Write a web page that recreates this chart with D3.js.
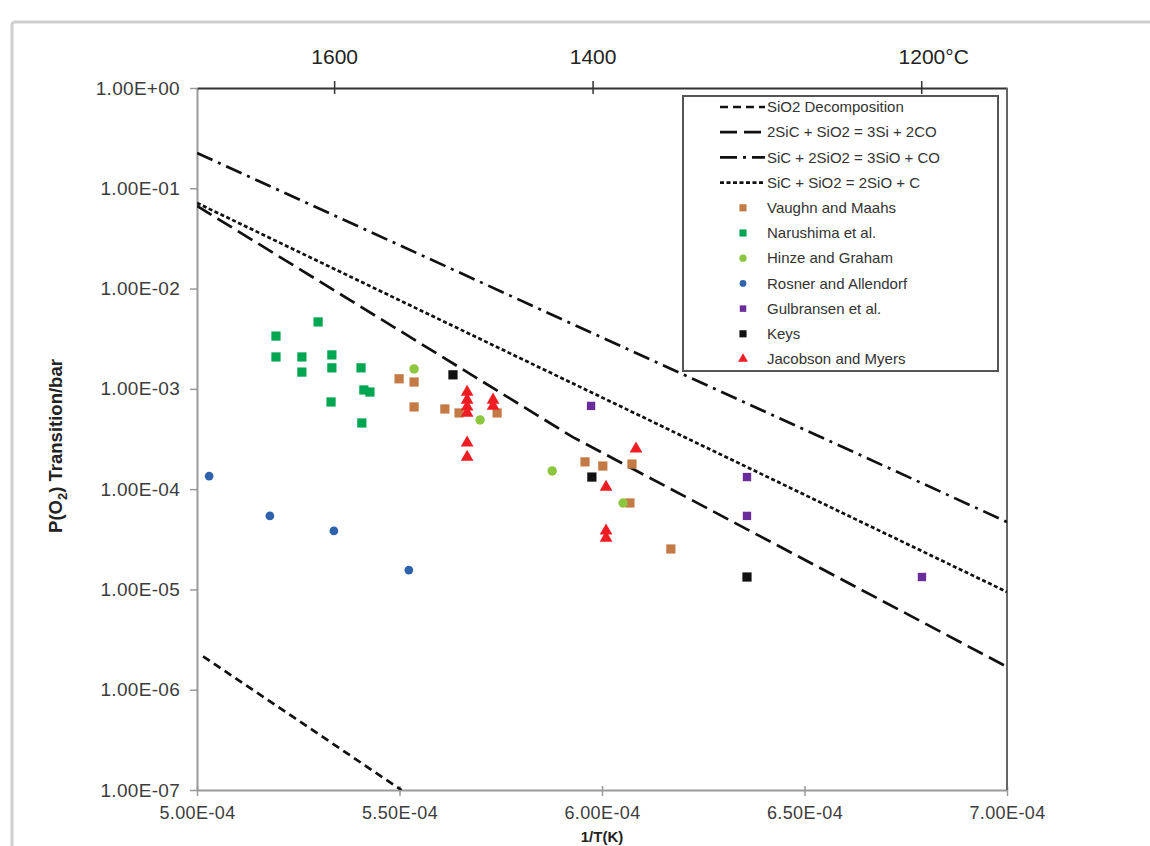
<!DOCTYPE html>
<html>
<head>
<meta charset="utf-8">
<script src="https://cdn.jsdelivr.net/npm/d3@7"></script>
<style>
  html, body { margin: 0; padding: 0; background: #fff; overflow: hidden; }
  svg { display: block; font-family: "Liberation Sans", Arial, sans-serif; }
</style>
</head>
<body>
<div id="chart"></div>
<script>
// axis ticks and labels
const yTicks = [1, 1e-1, 1e-2, 1e-3, 1e-4, 1e-5, 1e-6, 1e-7];
const yTickLabels = ["1.00E+00", "1.00E-01", "1.00E-02", "1.00E-03", "1.00E-04", "1.00E-05", "1.00E-06", "1.00E-07"];
const xTicks = [5.0e-4, 5.5e-4, 6.0e-4, 6.5e-4, 7.0e-4];
const xTickLabels = ["5.00E-04", "5.50E-04", "6.00E-04", "6.50E-04", "7.00E-04"];
const tempTicksC = [1600, 1400, 1200];
const tempTickLabels = ["1600", "1400", "1200°C"];

// equilibrium lines [1/T, P(O2)]
const sio2Decomp = [[5.015e-4, 2.15e-6], [5.505e-4, 1.0e-7]];
const sic2Si = [[5.0e-4, 6.66e-2], [5.928e-4, 3.3e-4], [7.0e-4, 1.69e-6]];
const sic3SiO = [[5.0e-4, 2.25e-1], [7.0e-4, 4.71e-5]];
const sic2SiO = [[5.0e-4, 7.13e-2], [7.0e-4, 9.44e-6]];

// measured transitions [1/T, P(O2)]
const vaughn = [[5.499e-4, 1.26e-3], [5.536e-4, 1.17e-3], [5.536e-4, 6.6e-4], [5.612e-4, 6.3e-4],
  [5.647e-4, 5.75e-4], [5.741e-4, 5.75e-4], [5.958e-4, 1.87e-4], [6.002e-4, 1.7e-4],
  [6.074e-4, 1.78e-4], [6.069e-4, 7.28e-5], [6.17e-4, 2.53e-5]];
const narushima = [[5.299e-4, 4.65e-3], [5.195e-4, 3.36e-3], [5.195e-4, 2.08e-3], [5.259e-4, 2.08e-3],
  [5.259e-4, 1.47e-3], [5.333e-4, 2.18e-3], [5.333e-4, 1.62e-3], [5.331e-4, 7.4e-4],
  [5.405e-4, 1.62e-3], [5.412e-4, 9.75e-4], [5.427e-4, 9.3e-4], [5.407e-4, 4.57e-4]];
const hinze = [[5.536e-4, 1.58e-3], [5.699e-4, 4.9e-4], [5.877e-4, 1.52e-4], [6.052e-4, 7.28e-5]];
const rosner = [[5.03e-4, 1.35e-4], [5.18e-4, 5.41e-5], [5.338e-4, 3.83e-5], [5.523e-4, 1.56e-5]];
const gulbransen = [[5.973e-4, 6.76e-4], [6.358e-4, 1.32e-4], [6.358e-4, 5.41e-5], [6.79e-4, 1.33e-5]];
const keys = [[5.632e-4, 1.38e-3], [5.975e-4, 1.32e-4], [6.358e-4, 1.33e-5]];
const jacobson = [[5.667e-4, 9.3e-4], [5.667e-4, 7.75e-4], [5.667e-4, 6.6e-4], [5.667e-4, 5.75e-4],
  [5.667e-4, 2.89e-4], [5.667e-4, 2.09e-4], [5.731e-4, 7.75e-4], [5.731e-4, 6.75e-4],
  [6.01e-4, 1.05e-4], [6.01e-4, 3.83e-5], [6.01e-4, 3.26e-5], [6.084e-4, 2.52e-4]];

const lineNames = ["SiO2 Decomposition", "2SiC + SiO2 = 3Si + 2CO", "SiC + 2SiO2 = 3SiO + CO", "SiC + SiO2 = 2SiO + C"];
const pointNames = ["Vaughn and Maahs", "Narushima et al.", "Hinze and Graham", "Rosner and Allendorf", "Gulbransen et al.", "Keys", "Jacobson and Myers"];

var lineSeries = [
  { data: sio2Decomp, dash: "8,5" },
  { data: sic2Si, dash: "17,7" },
  { data: sic3SiO, dash: "17,6,3,6" },
  { data: sic2SiO, dash: "4,2.5" },
];
var pointSeries = [
  { data: vaughn, color: "#c47a45", shape: d3.symbolSquare, size: 85 },
  { data: narushima, color: "#00a651", shape: d3.symbolSquare, size: 85 },
  { data: hinze, color: "#8dc63f", shape: d3.symbolCircle, size: 70 },
  { data: rosner, color: "#2e62ad", shape: d3.symbolCircle, size: 60 },
  { data: gulbransen, color: "#6a2c9a", shape: d3.symbolSquare, size: 70 },
  { data: keys, color: "#111111", shape: d3.symbolSquare, size: 85 },
  { data: jacobson, color: "#ee1d23", shape: d3.symbolTriangle, size: 70 },
];

var margin = { top: 88, right: 143, bottom: 56, left: 197 },
  width = 1150 - margin.left - margin.right,
  height = 846 - margin.top - margin.bottom;

var svg = d3
  .select("#chart")
  .append("svg")
  .attr("width", 1150)
  .attr("height", 846);

// light outer frame
svg.append("rect")
  .attr("x", 12).attr("y", 22)
  .attr("width", 1300).attr("height", 1000)
  .attr("rx", 3)
  .style("fill", "none")
  .style("stroke", "#cfcfcf")
  .style("stroke-width", 3);

var g = svg.append("g")
  .attr("transform", "translate(" + margin.left + "," + margin.top + ")");

var x = d3.scaleLinear().domain([5e-4, 7e-4]).range([0, width]);
var y = d3.scaleLog().domain([1e-7, 1]).range([height, 0]);

g.append("defs").append("clipPath").attr("id", "clip")
  .append("rect").attr("width", width).attr("height", height);

// left axis
var yAxis = g.append("g")
  .call(d3.axisLeft(y).tickValues(yTicks).tickSize(7).tickSizeOuter(0).tickPadding(10)
    .tickFormat((d, i) => yTickLabels[i]));
yAxis.select(".domain").style("stroke", "#9a9a9a").style("stroke-width", 2);
yAxis.selectAll(".tick line").style("stroke", "#9a9a9a").style("stroke-width", 1.5);
yAxis.selectAll(".tick text")
  .style("font-size", "19px").style("letter-spacing", "0.3px").style("fill", "#3c3c3c");

// bottom axis
var xAxis = g.append("g")
  .attr("transform", "translate(0," + height + ")")
  .call(d3.axisBottom(x).tickValues(xTicks).tickSize(6).tickSizeOuter(0).tickPadding(10)
    .tickFormat((d, i) => xTickLabels[i]));
xAxis.select(".domain").style("stroke", "#9a9a9a").style("stroke-width", 2);
xAxis.selectAll(".tick line").attr("y1", -4).style("stroke", "#9a9a9a").style("stroke-width", 1.5);
xAxis.selectAll(".tick text")
  .style("font-size", "18px").style("letter-spacing", "0.4px").style("fill", "#3c3c3c");

// top axis in degrees C
var topAxis = g.append("g")
  .call(d3.axisTop(x)
    .tickValues(tempTicksC.map((c) => 1 / (c + 273.15)))
    .tickSize(7).tickSizeOuter(0).tickPadding(17)
    .tickFormat((d, i) => tempTickLabels[i]));
topAxis.select(".domain").style("stroke", "#333").style("stroke-width", 2);
topAxis.selectAll(".tick line").attr("y1", 6).style("stroke", "#333").style("stroke-width", 1.5);
topAxis.selectAll(".tick text")
  .style("font-size", "21px").style("fill", "#222")
  .attr("dx", (d, i) => (i == tempTickLabels.length - 1 ? 12 : 0));

// right frame
g.append("line")
  .attr("x1", width).attr("x2", width)
  .attr("y1", 0).attr("y2", height)
  .style("stroke", "#666").style("stroke-width", 2);

// axis titles
svg.append("text")
  .attr("transform", "translate(62,446) rotate(-90)")
  .attr("text-anchor", "middle")
  .style("font-size", "18.5px").style("font-weight", "bold").style("fill", "#222")
  .html('P(O<tspan dy="5" font-size="13px">2</tspan><tspan dy="-5">) Transition/bar</tspan>');

svg.append("text")
  .attr("x", margin.left + x(6e-4)).attr("y", 842)
  .attr("text-anchor", "middle")
  .style("font-size", "15px").style("font-weight", "bold").style("fill", "#222")
  .text("1/T(K)");

// equilibrium lines
var line = d3.line().x((d) => x(d[0])).y((d) => y(d[1]));
g.append("g").attr("clip-path", "url(#clip)")
  .selectAll("path")
  .data(lineSeries)
  .enter()
  .append("path")
  .attr("d", (d) => line(d.data))
  .style("fill", "none")
  .style("stroke", "#111")
  .style("stroke-width", 2.7)
  .style("stroke-dasharray", (d) => d.dash);

// data points
pointSeries.forEach(function (s) {
  g.append("g")
    .selectAll("path")
    .data(s.data)
    .enter()
    .append("path")
    .attr("transform", (d) => "translate(" + x(d[0]) + "," + y(d[1]) + ")")
    .attr("d", d3.symbol().type(s.shape).size(s.size))
    .style("fill", s.color);
});

// legend
var legend = svg.append("g").attr("transform", "translate(683,96)");
legend.append("rect")
  .attr("width", 315).attr("height", 275)
  .style("fill", "#fff")
  .style("stroke", "#555")
  .style("stroke-width", 2);

var rowH = 25.2;
lineNames.forEach(function (name, i) {
  var ry = 11 + i * rowH;
  legend.append("line")
    .attr("x1", 37).attr("x2", 82)
    .attr("y1", ry).attr("y2", ry)
    .style("stroke", "#111").style("stroke-width", 2.7)
    .style("stroke-dasharray", lineSeries[i].dash);
  legend.append("text")
    .attr("x", 84).attr("y", ry).attr("dy", "0.35em")
    .style("font-size", "15px").style("fill", "#333")
    .text(name);
});
pointNames.forEach(function (name, i) {
  var ry = 11 + (i + 4) * rowH;
  legend.append("path")
    .attr("transform", "translate(60," + ry + ")")
    .attr("d", d3.symbol().type(pointSeries[i].shape).size(pointSeries[i].size * 0.6))
    .style("fill", pointSeries[i].color);
  legend.append("text")
    .attr("x", 84).attr("y", ry).attr("dy", "0.35em")
    .style("font-size", "15px").style("fill", "#333")
    .text(name);
});
</script>
</body>
</html>
